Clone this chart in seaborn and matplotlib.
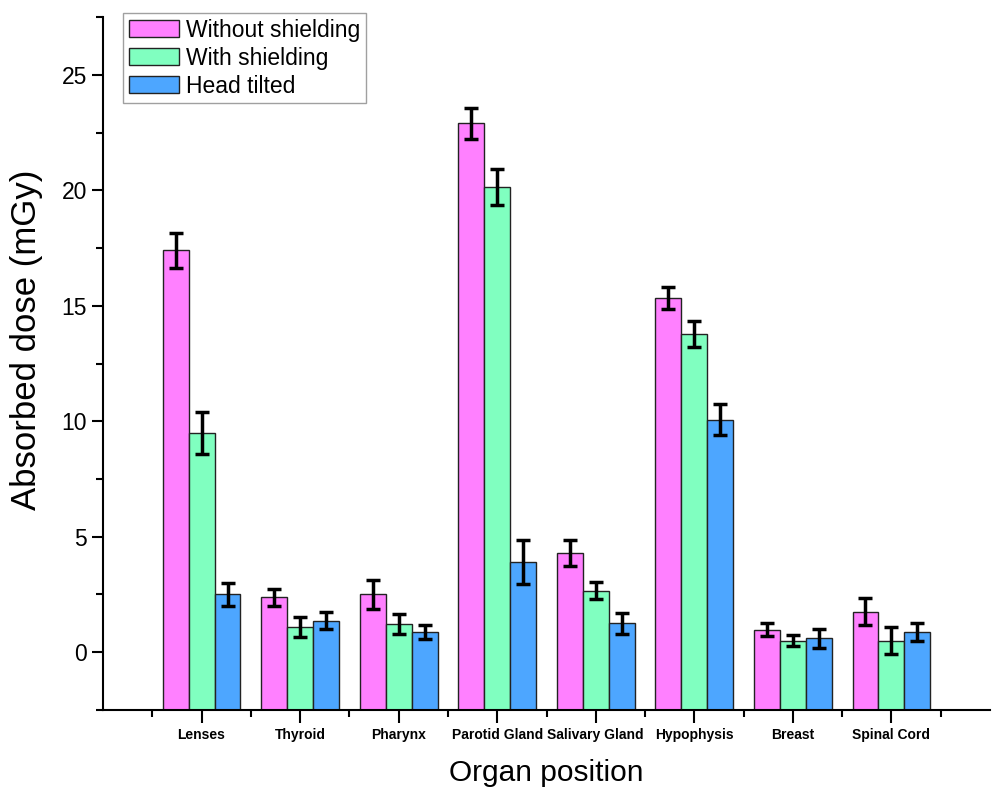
import numpy as np
import pandas as pd
import matplotlib
matplotlib.use("Agg")
import matplotlib.pyplot as plt
import seaborn as sns
from matplotlib.ticker import MultipleLocator

organs = ["Lenses", "Thyroid", "Pharynx", "Parotid Gland", "Salivary Gland",
          "Hypophysis", "Breast", "Spinal Cord"]
groups = ["Without shielding", "With shielding", "Head tilted"]

without_shielding = [17.4, 2.37, 2.5, 22.9, 4.3, 15.32, 0.97, 1.75]
with_shielding = [9.5, 1.08, 1.24, 20.15, 2.67, 13.78, 0.5, 0.5]
head_tilted = [2.5, 1.37, 0.88, 3.91, 1.25, 10.06, 0.6, 0.88]

err_without = [0.77, 0.37, 0.63, 0.68, 0.55, 0.48, 0.28, 0.58]
err_with = [0.9, 0.43, 0.43, 0.78, 0.38, 0.55, 0.23, 0.59]
err_tilted = [0.5, 0.37, 0.3, 0.94, 0.47, 0.67, 0.4, 0.39]

colors = ["#FF80FF", "#80FFC0", "#4DA6FF"]
y_floor = -2.5

df = pd.DataFrame({
    "organ": organs * 3,
    "group": [g for g in groups for _ in organs],
    "dose": without_shielding + with_shielding + head_tilted,
})

sns.set_style("ticks", {"axes.edgecolor": "black", "text.color": "black",
                        "xtick.color": "black", "ytick.color": "black",
                        "axes.labelcolor": "black"})
plt.rcParams["font.family"] = ["Liberation Sans", "DejaVu Sans"]

fig = plt.figure(figsize=(10, 7.99), dpi=100)
ax = fig.add_axes([0.103, 0.1114, 0.887, 0.8673])

sns.barplot(data=df, x="organ", y="dose", hue="group", order=organs,
            hue_order=groups, palette=colors, saturation=1, width=0.79, gap=0,
            edgecolor="#222222", linewidth=1, legend=False, errorbar=None,
            ax=ax)

bar_groups = list(ax.containers)

# Origin-style bars start at the bottom of the axis
for p in ax.patches:
    h = p.get_height()
    p.set_y(y_floor)
    p.set_height(h - y_floor)

for cont, vals, errs in zip(bar_groups,
                            [without_shielding, with_shielding, head_tilted],
                            [err_without, err_with, err_tilted]):
    xs = [p.get_x() + p.get_width() / 2 for p in cont.patches]
    ax.errorbar(xs, vals, yerr=errs, fmt="none", ecolor="black",
                elinewidth=2.5, capsize=5, capthick=2.5, zorder=5)

ax.set_xlim(-1, 8)
ax.set_ylim(-2.5, 27.5)
ax.yaxis.set_major_locator(MultipleLocator(5))
ax.yaxis.set_minor_locator(MultipleLocator(2.5))
ax.set_xticks(range(len(organs)))
ax.set_xticks(np.arange(-0.5, 8.5, 1.0), minor=True)
ax.set_xticklabels(organs, fontweight="bold", fontsize=10)

for s in ["top", "right"]:
    ax.spines[s].set_visible(False)
for s in ["left", "bottom"]:
    ax.spines[s].set_linewidth(1.5)

ax.tick_params(axis="y", which="major", labelsize=16.5, length=8, width=1.5, direction="out")
ax.tick_params(axis="y", which="minor", length=5, width=1.5, direction="out")
ax.tick_params(axis="x", which="major", length=9, width=1.5, direction="out", pad=4)
ax.tick_params(axis="x", which="minor", length=5, width=1.5, direction="out")

ax.set_xlabel("Organ position", fontsize=21.5, labelpad=12)
ax.set_ylabel("Absorbed dose (mGy)", fontsize=25)
ax.yaxis.set_label_coords(-0.068, 0.534)

handles = [c.patches[0] for c in bar_groups]
leg = fig.legend(handles, groups, loc="upper left", bbox_to_anchor=(0.123, 0.984),
                 fontsize=16.5, frameon=True, fancybox=False, borderpad=0.25,
                 handlelength=2.2, handleheight=0.8, handletextpad=0.3,
                 labelspacing=0.22, borderaxespad=0)
leg.get_frame().set_edgecolor("#888888")
leg.get_frame().set_linewidth(1)

fig.savefig("out.png", dpi=100)
